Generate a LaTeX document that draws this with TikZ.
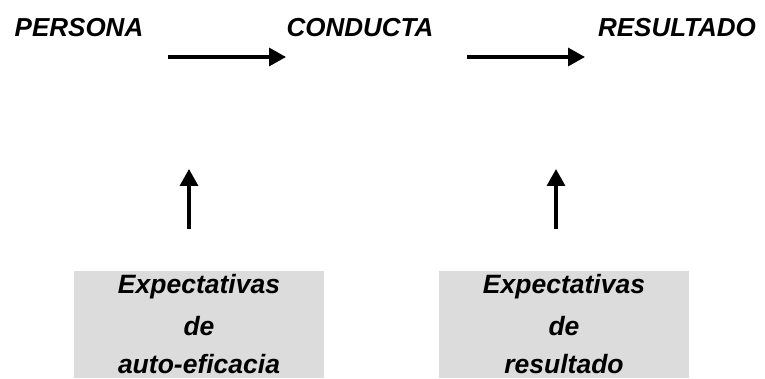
\documentclass[tikz,border=0pt]{standalone}
\usepackage{fontspec}
\setmainfont{Liberation Sans}
\usetikzlibrary{arrows.meta}

\begin{document}
\begin{tikzpicture}[x=1pt,y=-1pt]
      % Colors
      \definecolor{boxgray}{RGB}{220,220,220}

      % Styles
      \tikzstyle{word}=[font=\fontsize{26}{30}\selectfont\bfseries\itshape,inner sep=0pt,anchor=base]
      \tikzstyle{expect box}=[fill=boxgray,minimum width=250,minimum height=107,inner sep=0pt,
        align=center,font=\fontsize{26.5}{40}\selectfont\bfseries\itshape]
      \tikzstyle{big arrow}=[line width=3.3pt,-{Triangle[length=17pt,width=18pt]}]

      % The graphic
      \useasboundingbox (0,0) rectangle (765,379);

      \node[word] (persona)   at (79,37)  {PERSONA};
      \node[word] (conducta)  at (360,37) {CONDUCTA};
      \node[word] (resultado) at (677,37) {RESULTADO};

      \node[expect box] (autoef) at (199,324.5) {Expectativas\\[2pt]de\\[-2pt]auto-eficacia};
      \node[expect box] (expres) at (564,324.5) {Expectativas\\[2pt]de\\[-2pt]resultado};

      % free ends of the arrows
      \coordinate (a1) at (168,57);
      \coordinate (b1) at (286,57);
      \coordinate (a2) at (467,57);
      \coordinate (b2) at (585,57);
      \coordinate (c1) at (189,229);
      \coordinate (d1) at (189,169);
      \coordinate (c2) at (556,229);
      \coordinate (d2) at (556,169);

      \draw[style=big arrow] (a1) -- (b1);
      \draw[style=big arrow] (a2) -- (b2);
      \draw[style=big arrow] (c1) -- (d1);
      \draw[style=big arrow] (c2) -- (d2);
\end{tikzpicture}
\end{document}
